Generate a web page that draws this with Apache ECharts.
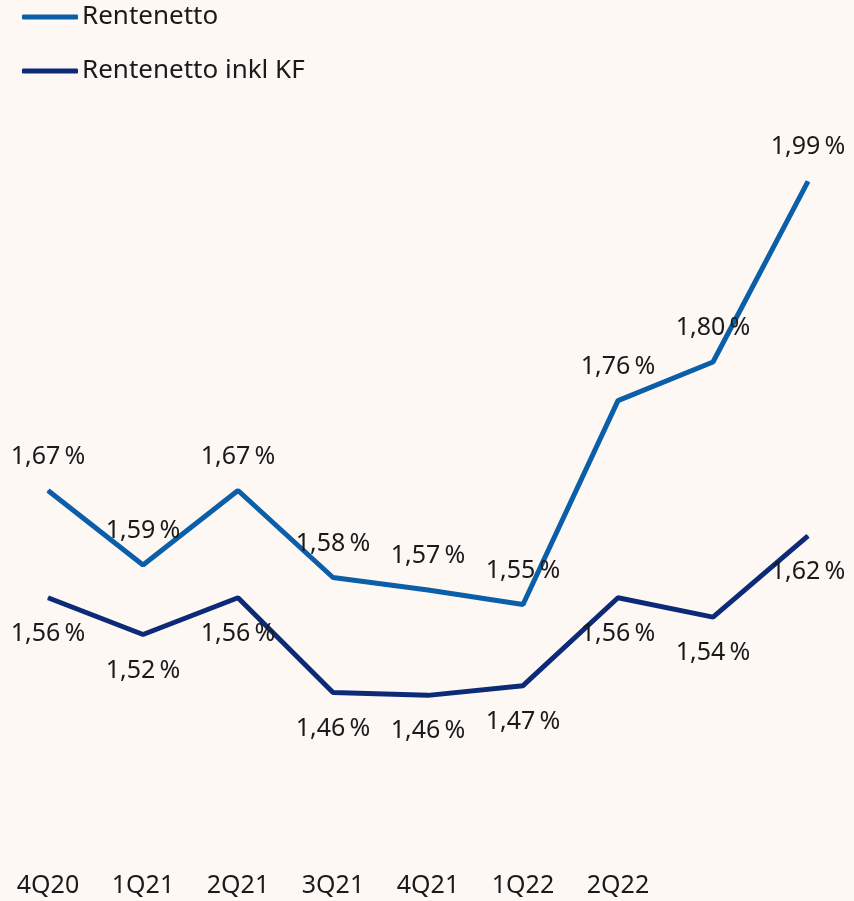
<!DOCTYPE html>
<html>
<head>
<meta charset="utf-8">
<script src="https://cdn.jsdelivr.net/npm/echarts@6/dist/echarts.min.js"></script>
<style>
html,body{margin:0;padding:0;background:#fdf8f4;}
#chart{width:854px;height:901px;}
</style>
</head>
<body>
<div id="chart"></div>
<script>
const categories = ["4Q20","1Q21","2Q21","3Q21","4Q21","1Q22","2Q22","",""];
const seriesNames = ["Rentenetto","Rentenetto inkl KF"];
const rentenetto = [1.671, 1.594, 1.671, 1.581, 1.568, 1.553, 1.764, 1.804, 1.991];
const rentenettoInklKF = [1.560, 1.522, 1.560, 1.462, 1.459, 1.469, 1.560, 1.540, 1.624];

const FONT = "'Noto Sans', sans-serif";
const fmt = p => p.value.toFixed(2).replace('.', ',') + '\u2009%';

const chart = echarts.init(document.getElementById('chart'), null, {renderer:'canvas'});
chart.setOption({
  backgroundColor: '#fdf8f4',
  animation: false,
  legend: {
    orient: 'vertical',
    left: 22,
    top: 4,
    padding: 0,
    itemGap: 28,
    itemWidth: 56,
    itemHeight: 5,
    icon: 'roundRect',
    textStyle: {fontFamily: FONT, fontSize: 26, color: '#1a1a1a', padding: [0,0,0,-1]},
    data: seriesNames
  },
  grid: {left: 48, right: 46, top: 76, bottom: 52},
  xAxis: {
    type: 'category',
    data: categories,
    boundaryGap: false,
    axisLine: {show: false},
    axisTick: {show: false},
    splitLine: {show: false},
    axisLabel: {fontFamily: FONT, fontSize: 25, color: '#1a1a1a', margin: 24, interval: 0}
  },
  yAxis: {
    type: 'value',
    min: 1.3,
    max: 2.1,
    show: false,
    splitLine: {show: false}
  },
  series: [
    {
      name: seriesNames[0],
      type: 'line',
      data: rentenetto,
      symbol: 'circle',
      symbolSize: 1,
      color: '#0b5ea8',
      lineStyle: {width: 5, color: '#0b5ea8'},
      label: {show: true, position: 'top', distance: 21, formatter: fmt,
        fontFamily: FONT, fontSize: 25, color: '#1a1a1a'}
    },
    {
      name: seriesNames[1],
      type: 'line',
      data: rentenettoInklKF,
      symbol: 'circle',
      symbolSize: 1,
      color: '#0c2a78',
      lineStyle: {width: 5, color: '#0c2a78'},
      label: {show: true, position: 'bottom', distance: 23, formatter: fmt,
        fontFamily: FONT, fontSize: 25, color: '#1a1a1a'}
    }
  ]
});
</script>
</body>
</html>
